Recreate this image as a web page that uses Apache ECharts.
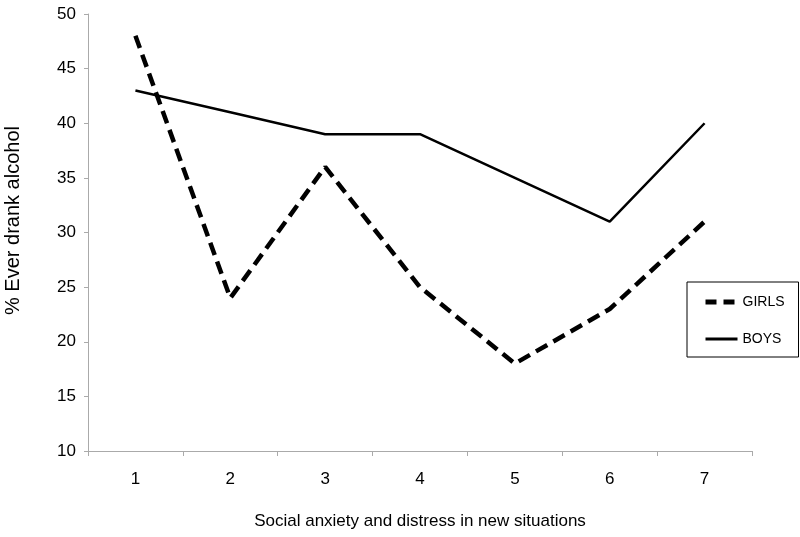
<!DOCTYPE html>
<html><head><meta charset="utf-8">
<script src="https://cdn.jsdelivr.net/npm/echarts@6/dist/echarts.min.js"></script>
<style>html,body{margin:0;padding:0;background:#fff}#c{width:800px;height:537px}</style>
</head><body><div id="c"></div>
<script>
const categories = ['1','2','3','4','5','6','7'];
const girls = [48, 24, 36, 25, 18, 23, 31];
const boys = [43, 41, 39, 39, 35, 31, 40];
const chart = echarts.init(document.getElementById('c'), null, {renderer:'canvas'});
const font = 'Arial, "Liberation Sans", sans-serif';
chart.setOption({
  animation:false,
  backgroundColor:'#fff',
  grid:{left:88,right:48,top:14,bottom:86,containLabel:false,outerBoundsMode:'none'},
  legend:{
    orient:'vertical', left:687, top:282,
    padding:[13,14,11,16],
    itemGap:23, itemWidth:32, itemHeight:14,
    borderColor:'#000', borderWidth:1,
    itemStyle:{opacity:0},
    textStyle:{fontFamily:font,fontSize:14,color:'#000',padding:[0,0,0,0]},
    data:[
      {name:'GIRLS',lineStyle:{width:5,type:[11,7],color:'#000'}},
      {name:'BOYS',lineStyle:{width:3,type:'solid',color:'#000'}}
    ]
  },
  xAxis:{
    type:'category', data:categories, boundaryGap:true,
    name:'Social anxiety and distress in new situations',
    nameLocation:'middle', nameGap:62,
    nameTextStyle:{fontFamily:font,fontSize:17,color:'#000'},
    axisLine:{lineStyle:{color:'#aaa',width:1}},
    axisTick:{show:true,length:5,lineStyle:{color:'#aaa'}},
    axisLabel:{fontFamily:font,fontSize:17,color:'#000',margin:20}
  },
  yAxis:{
    type:'value', min:10, max:50, interval:5,
    name:'% Ever drank alcohol', nameLocation:'middle', nameGap:65,
    nameTextStyle:{fontFamily:font,fontSize:20,color:'#000',padding:[0,0,0,24]},
    axisLine:{show:true,lineStyle:{color:'#aaa',width:1}},
    axisTick:{show:true,length:4,lineStyle:{color:'#aaa'}},
    splitLine:{show:false},
    axisLabel:{fontFamily:font,fontSize:17,color:'#000',margin:12}
  },
  series:[
    {name:'GIRLS',type:'line',data:girls,symbol:'none',
     itemStyle:{color:'#000'},
     lineStyle:{color:'#000',width:4.5,type:[13,7]}},
    {name:'BOYS',type:'line',data:boys,symbol:'none',
     itemStyle:{color:'#000'},
     lineStyle:{color:'#000',width:2.5,type:'solid'}}
  ]
});
</script></body></html>
